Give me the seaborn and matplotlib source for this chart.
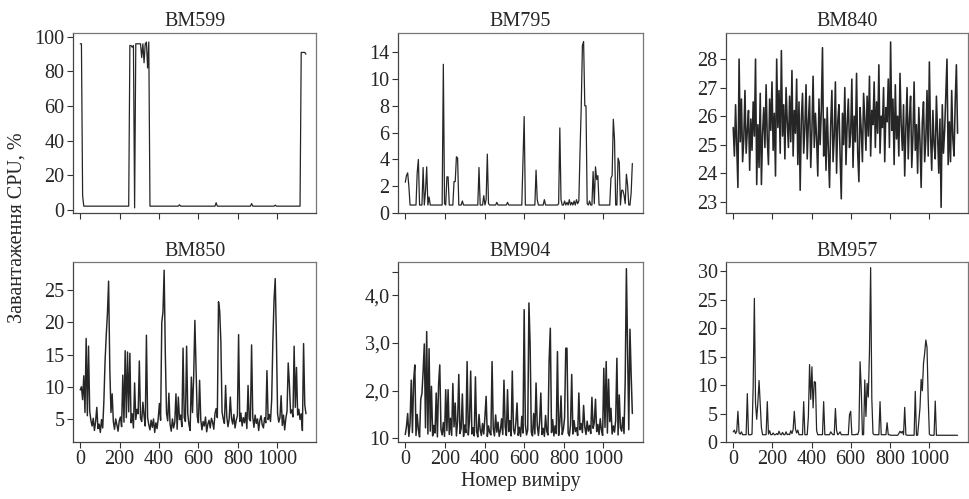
import numpy as np
import pandas as pd
import matplotlib
matplotlib.use("Agg")
import matplotlib.pyplot as plt
import seaborn as sns

STEP = 6
titles = ["BM599", "BM795", "BM840", "BM850", "BM904", "BM957"]

bm599 = [96, 96, 8, 2, 2, 2, 2, 2, 2, 2, 2, 2, 2, 2, 2, 2,
         2, 2, 2, 2, 2, 2, 2, 2, 2, 2, 2, 2, 2, 2, 2, 2,
         2, 2, 2, 2, 2, 2, 2, 2, 2, 2, 95, 95, 94, 95, 1, 96,
         96, 96, 96, 96, 88, 96, 85, 96, 97, 82, 97, 2, 2, 2, 2, 2,
         2, 2, 2, 2, 2, 2, 2, 2, 2, 2, 2, 2, 2, 2, 2, 2,
         2, 2, 2, 2, 2.8, 2, 2, 2, 2, 2, 2, 2, 2, 2, 2, 2,
         2, 2, 2, 2, 2, 2, 2, 2, 2, 2, 2, 2, 2, 2, 2, 2,
         2, 2, 2, 4, 2, 2, 2, 2, 2, 2, 2, 2, 2, 2, 2, 2,
         2, 2, 2, 2, 2, 2, 2, 2, 2, 2, 2, 2, 2, 2, 2, 2,
         2, 3.5, 2, 2, 2, 2, 2, 2, 2, 2, 2, 2, 2, 2, 2, 2,
         2, 2, 2, 2, 2, 2.6, 2, 2, 2, 2, 2, 2, 2, 2, 2, 2,
         2, 2, 2, 2, 2, 2, 2, 2, 2, 2, 2, 91, 91, 91, 91, 90]

bm795 = [2.3, 2.8, 3.0, 2.0, 0.6, 0.6, 0.6, 0.6, 0.6, 0.6, 3.0, 4.0, 0.6, 0.6, 0.6, 3.4,
         0.6, 1.65, 3.45, 0.6, 1.2, 0.6, 0.6, 0.6, 0.6, 0.6, 0.6, 0.6, 0.6, 0.6, 0.6, 0.6,
         11.1, 0.7, 0.6, 2.7, 2.7, 0.6, 0.6, 0.6, 0.6, 2.35, 2.35, 4.2, 4.1, 0.6, 0.6, 0.6,
         0.9, 0.6, 0.6, 0.6, 0.6, 0.6, 0.6, 0.6, 0.6, 0.6, 0.6, 0.6, 0.6, 0.6, 3.4, 0.6,
         0.6, 0.6, 1.3, 0.6, 1.0, 4.4, 0.7, 0.6, 0.6, 0.6, 0.6, 0.6, 0.6, 0.8, 0.6, 0.6,
         0.6, 0.6, 0.6, 0.6, 0.6, 0.6, 0.8, 0.6, 0.6, 0.6, 0.6, 0.6, 0.6, 0.6, 0.6, 0.6,
         0.6, 0.6, 0.6, 3.9, 7.2, 0.6, 0.6, 0.6, 0.6, 0.6, 0.6, 0.6, 0.6, 0.6, 3.2, 1.0,
         0.6, 0.6, 0.6, 0.6, 0.6, 1.0, 0.6, 0.6, 0.6, 0.6, 0.6, 0.6, 0.6, 0.6, 0.6, 0.6,
         0.6, 0.7, 6.35, 1.0, 0.6, 0.6, 0.9, 0.6, 0.8, 0.6, 1.0, 0.6, 0.8, 0.6, 0.9, 0.6,
         1.0, 0.7, 0.9, 4.6, 7.9, 12.5, 12.8, 8.0, 8.0, 0.7, 0.6, 0.9, 0.6, 0.6, 3.1, 0.7,
         3.45, 2.5, 2.8, 0.6, 0.6, 0.6, 0.6, 0.6, 0.6, 0.6, 0.6, 0.6, 0.6, 2.6, 2.8, 7.0,
         5.5, 0.6, 0.6, 4.1, 3.8, 0.6, 1.7, 1.7, 1.35, 0.7, 2.9, 2.1, 0.6, 0.6, 1.5, 3.7]

bm840 = [25.6, 24.6, 26.4, 24.9, 23.5, 28.0, 25.1, 26.6, 24.4, 25.2, 26.9, 24.7, 25.5, 26.2, 24.1, 25.9,
         24.8, 26.5, 25.3, 28.0, 23.6, 25.7, 24.2, 26.8, 23.6, 25.4, 26.3, 24.9, 27.1, 25.2, 24.3, 26.6,
         25.5, 27.2, 24.8, 26.1, 23.9, 28.0, 25.6, 26.9, 24.7, 28.3, 25.3, 26.4, 24.5, 27.0, 25.8, 24.9,
         26.7, 25.1, 27.6, 24.6, 26.2, 25.4, 27.3, 24.3, 26.5, 23.4, 25.9, 26.8, 24.7, 25.6, 27.1, 24.5,
         25.8, 26.7, 24.2, 25.5, 27.4, 24.9, 26.1, 25.2, 23.9, 26.6, 25.0, 26.2, 28.4, 24.6, 25.9, 24.1,
         26.3, 24.8, 23.5, 25.7, 26.9, 24.4, 25.3, 27.2, 24.0, 25.8, 26.4, 24.6, 23.1, 26.1, 25.0, 27.0,
         24.3, 25.7, 26.6, 24.9, 25.4, 27.3, 24.2, 26.0, 25.1, 27.5, 24.7, 23.7, 26.3, 25.5, 24.4, 26.8,
         25.9, 24.8, 26.7, 25.3, 27.4, 24.6, 26.2, 25.7, 27.2, 24.9, 26.5, 25.4, 27.8, 24.7, 26.0, 25.6,
         27.0, 24.4, 26.3, 25.8, 27.3, 24.9, 28.6, 25.5, 26.6, 24.3, 27.1, 25.2, 26.0, 24.6, 27.5, 25.7,
         24.8, 26.4, 23.9, 25.6, 27.0, 24.5, 25.9, 26.7, 24.2, 25.3, 27.2, 24.8, 25.7, 24.0, 26.3, 25.1,
         23.5, 25.8, 26.5, 24.4, 25.2, 26.9, 24.6, 27.9, 25.3, 24.1, 26.2, 25.0, 24.5, 26.7, 25.4, 24.0,
         25.9, 22.8, 26.4, 24.7, 25.5, 26.8, 28.0, 24.3, 25.8, 24.4, 26.9, 25.2, 24.6, 26.5, 27.8, 25.4]

bm850 = [9.5, 10.0, 8.0, 11.7, 6.0, 17.5, 5.5, 16.3, 6.2, 4.8, 3.9, 5.1, 3.2, 4.6, 6.8, 3.5,
         4.2, 2.9, 4.9, 3.6, 7.8, 14.0, 18.0, 21.4, 26.4, 12.9, 6.0, 8.9, 4.6, 3.4, 5.0, 4.1,
         3.1, 4.7, 5.3, 3.8, 11.8, 4.5, 15.6, 5.2, 15.4, 6.1, 15.2, 4.4, 5.8, 3.6, 10.6, 4.9,
         6.5, 5.8, 14.0, 5.1, 4.6, 7.6, 5.5, 3.9, 18.0, 5.2, 4.1, 3.3, 4.8, 3.7, 5.0, 2.9,
         4.4, 3.5, 5.1, 7.4, 4.8, 20.0, 21.6, 28.1, 15.0, 5.9, 4.7, 9.0, 4.2, 3.1, 5.0, 3.6,
         4.5, 8.9, 3.4, 8.4, 4.9, 5.6, 3.8, 16.0, 5.2, 4.6, 16.3, 5.8, 4.1, 3.2, 11.5, 6.0,
         11.7, 20.3, 13.0, 5.4, 4.4, 11.0, 4.9, 3.3, 4.6, 3.9, 5.3, 3.0, 4.2, 4.8, 3.6, 5.1,
         4.5, 3.4, 5.8, 6.6, 5.2, 23.2, 21.8, 17.0, 6.1, 5.0, 4.3, 10.2, 5.4, 3.8, 4.9, 8.4,
         5.1, 4.2, 5.7, 3.6, 4.8, 5.5, 18.1, 4.6, 5.9, 3.9, 5.2, 4.4, 6.0, 3.5, 10.2, 5.0,
         4.7, 16.5, 5.3, 3.7, 5.6, 4.3, 5.0, 3.2, 4.8, 5.5, 4.1, 3.6, 5.2, 4.4, 12.5, 4.9,
         5.7, 4.6, 8.0, 17.0, 23.5, 26.8, 17.4, 5.8, 4.5, 5.2, 8.6, 4.0, 5.6, 3.3, 5.1, 6.2,
         13.7, 10.4, 5.9, 6.4, 5.3, 16.3, 6.8, 13.0, 5.6, 6.5, 4.9, 5.8, 3.2, 16.7, 7.2, 5.8]

bm904 = [1.08, 1.25, 1.52, 1.04, 1.31, 2.22, 1.12, 2.20, 2.54, 1.06, 1.50, 1.18, 1.03, 1.82, 1.94, 2.41,
         2.98, 1.22, 3.24, 1.09, 2.88, 1.15, 2.09, 1.05, 1.27, 1.11, 1.95, 1.03, 2.13, 2.54, 1.19, 1.07,
         1.33, 1.04, 2.02, 1.16, 2.02, 1.08, 1.42, 1.06, 2.15, 1.24, 1.74, 1.05, 1.36, 2.34, 1.10, 1.21,
         1.93, 1.04, 1.28, 1.12, 2.61, 1.07, 1.38, 2.41, 1.09, 1.22, 1.05, 2.29, 1.14, 1.03, 1.50, 1.18,
         1.06, 1.31, 1.09, 1.45, 1.88, 1.04, 1.26, 1.12, 1.07, 2.61, 1.20, 1.05, 1.49, 1.13, 1.34, 1.04,
         1.17, 1.41, 1.08, 2.22, 1.25, 1.06, 2.02, 1.14, 1.37, 1.05, 2.41, 1.19, 1.09, 1.32, 1.74, 1.06,
         1.23, 1.04, 1.46, 1.11, 3.70, 1.29, 1.07, 1.18, 3.84, 2.97, 1.13, 1.05, 1.52, 1.09, 2.16, 1.27,
         1.06, 1.35, 1.95, 1.08, 1.21, 1.04, 1.48, 1.15, 1.07, 2.63, 3.31, 1.12, 1.39, 1.05, 1.26, 1.10,
         2.82, 1.06, 1.33, 1.89, 1.08, 1.19, 1.43, 2.89, 2.89, 1.11, 1.05, 1.28, 2.34, 1.09, 1.37, 1.14,
         1.22, 1.06, 1.95, 1.18, 1.31, 1.12, 1.69, 1.24, 1.08, 1.36, 1.15, 1.27, 1.10, 1.86, 1.21, 1.33,
         1.82, 1.14, 1.29, 1.08, 1.41, 1.17, 1.06, 2.47, 1.23, 2.61, 1.11, 2.24, 1.35, 1.63, 1.09, 1.26,
         1.13, 1.38, 2.68, 1.07, 1.91, 1.22, 1.15, 1.44, 1.10, 2.21, 4.56, 2.86, 1.18, 3.29, 2.33, 1.52]

bm957 = [1.8, 2.1, 1.5, 1.9, 5.4, 1.6, 1.4, 1.8, 1.3, 1.3, 1.3, 1.3, 8.5, 1.3, 1.3, 1.3,
         1.4, 10.0, 25.2, 6.8, 4.0, 7.0, 10.8, 6.8, 2.5, 1.3, 1.3, 1.3, 1.3, 7.1, 1.4, 2.0,
         1.3, 1.3, 1.6, 1.3, 1.3, 1.5, 1.3, 1.9, 1.4, 1.3, 1.7, 1.3, 1.3, 1.8, 1.3, 1.4,
         1.3, 2.0, 1.5, 2.2, 5.4, 2.3, 1.6, 2.1, 1.3, 1.3, 1.3, 1.3, 7.1, 1.3, 1.3, 1.3,
         4.5, 13.6, 7.5, 13.2, 6.0, 10.6, 10.5, 2.0, 1.3, 1.3, 1.3, 1.3, 1.3, 7.1, 1.3, 1.3,
         1.3, 1.3, 1.3, 1.8, 1.5, 1.3, 1.3, 5.9, 2.0, 1.3, 1.5, 1.8, 1.3, 1.3, 1.3, 1.3,
         1.3, 1.3, 1.3, 4.8, 5.4, 1.3, 1.3, 1.3, 1.3, 1.4, 1.3, 2.0, 14.1, 9.4, 1.3, 1.3,
         10.9, 4.5, 10.3, 7.9, 15.9, 30.6, 7.6, 1.5, 1.3, 1.3, 1.3, 1.3, 1.3, 7.1, 1.3, 1.3,
         1.3, 1.3, 1.3, 3.4, 1.3, 1.3, 1.2, 1.2, 1.2, 1.2, 1.2, 1.2, 1.2, 1.5, 1.9, 1.6,
         1.9, 1.3, 6.1, 1.3, 1.2, 1.2, 1.2, 1.2, 1.2, 1.2, 1.2, 8.9, 1.2, 1.2, 3.5, 6.0,
         11.0, 9.0, 13.8, 15.6, 17.9, 16.6, 7.6, 1.4, 1.2, 1.2, 1.2, 1.2, 7.2, 1.2, 1.2, 1.2,
         1.2, 1.2, 1.2, 1.2, 1.2, 1.2, 1.2, 1.2, 1.2, 1.2, 1.2, 1.2, 1.2, 1.2, 1.2, 1.2]

series = [bm599, bm795, bm840, bm850, bm904, bm957]

x_ticks = [0, 200, 400, 600, 800, 1000]
y_ticks = [[0, 20, 40, 60, 80, 100],
           [0, 2, 4, 6, 8, 10, 12],
           [23, 24, 25, 26, 27, 28],
           [5, 10, 15, 20, 25],
           [1, 2, 3, 4, 4.5],
           [0, 5, 10, 15, 20, 25, 30]]
y_ticklabels = [["0", "20", "40", "60", "80", "100"],
                ["0", "2", "4", "6", "8", "10", "14"],
                ["23", "24", "25", "26", "27", "28"],
                ["5", "10", "15", "20", "25"],
                ["10", "2,0", "3,0", "4,0", ""],
                ["0", "5", "10", "15", "20", "25", "30"]]
y_limits = [(-2, 102), (0, 13.4), (22.6, 28.9), (1.4, 29.3), (0.92, 4.69), (0.5, 31.5)]
x_limits = (-37, 1198)

y_label = "Завантаження CPU, %"
x_label = "Номер виміру"

# ---------------- style ----------------
sns.set_theme(style="white")
plt.rcParams["font.family"] = ["Liberation Serif", "DejaVu Serif"]
plt.rcParams["font.size"] = 14.5
plt.rcParams["axes.unicode_minus"] = False

fig = plt.figure(figsize=(9.69, 4.99), dpi=100)

col_left = [0.0753, 0.4107, 0.7492]
col_w = [0.251, 0.2525, 0.2495]
row_bottom = [0.573, 0.114]
row_h = 0.360

line_color = "#262626"
line_widths = [0.9, 0.9, 1.15, 1.05, 1.1, 0.9]

for k, (vals, title) in enumerate(zip(series, titles)):
    r, c = divmod(k, 3)
    ax = fig.add_axes([col_left[c], row_bottom[r], col_w[c], row_h])
    df = pd.DataFrame({"x": np.arange(len(vals)) * STEP, "y": vals})
    sns.lineplot(data=df, x="x", y="y", ax=ax, color=line_color,
                 linewidth=line_widths[k], estimator=None, sort=False)
    ax.set_xlim(*x_limits)
    ax.set_ylim(*y_limits[k])
    ax.set_xticks(x_ticks)
    ax.set_yticks(y_ticks[k])
    ax.set_yticklabels(y_ticklabels[k])
    if r == 0:
        ax.set_xticklabels([])
    else:
        ax.set_xticklabels([str(t) for t in x_ticks])
    ax.set_xlabel("")
    ax.set_ylabel("")
    ax.set_title(title, fontsize=14.5, pad=5)
    ax.tick_params(axis="both", which="major", direction="out", length=4,
                   width=0.8, color="#333333", labelsize=14.5, pad=2,
                   bottom=True, left=True)
    for side, sp in ax.spines.items():
        sp.set_visible(True)
        sp.set_linewidth(0.9)
        sp.set_color("#444444" if side in ("left", "bottom") else "#777777")
    ax.set_facecolor("white")

fig.text(0.018, 0.543, y_label, rotation=90, ha="center", va="center", fontsize=14.5)
fig.text(0.537, 0.035, x_label, ha="center", va="center", fontsize=14.5)

fig.savefig("out.png", dpi=100, facecolor="white")
